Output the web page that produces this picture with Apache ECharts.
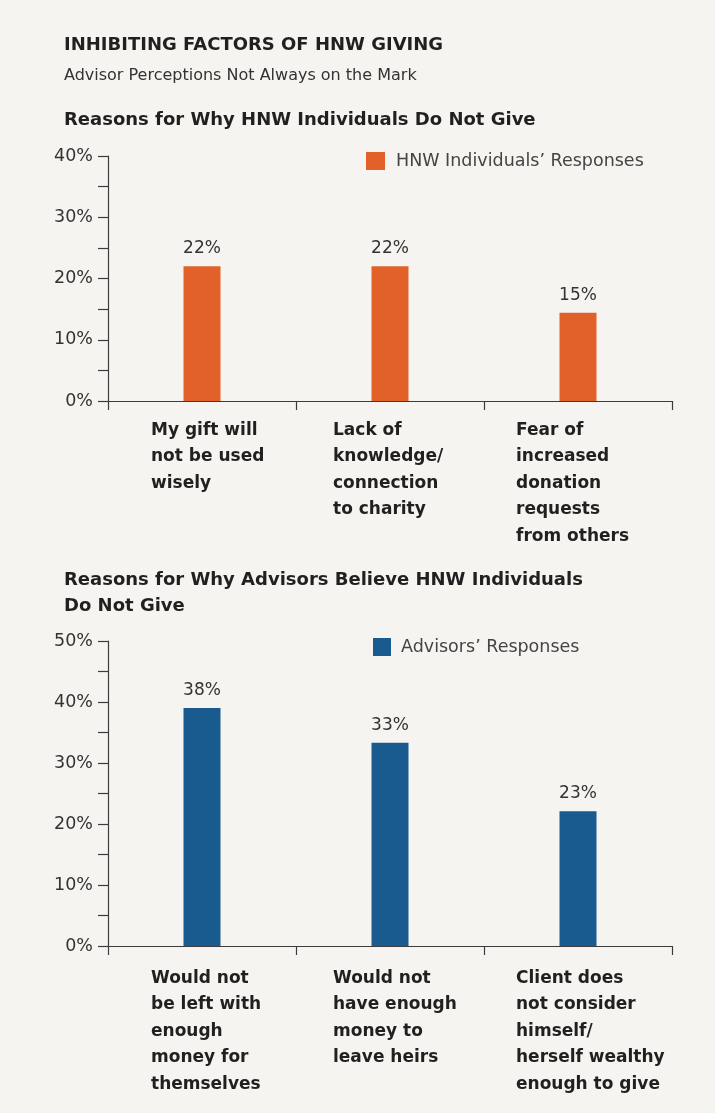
<!DOCTYPE html>
<html>
<head>
<meta charset="utf-8">
<script src="https://cdn.jsdelivr.net/npm/echarts@6/dist/echarts.min.js"></script>
<style>
html,body{margin:0;padding:0;background:#F5F4F1;}
#chart{width:715px;height:1113px;}
</style>
</head>
<body>
<div id="chart"></div>
<script>
// ---- data ----
const topCategories = [
  'My gift will\nnot be used\nwisely',
  'Lack of\nknowledge/\nconnection\nto charity',
  'Fear of\nincreased\ndonation\nrequests\nfrom others'
];
const topSeriesName = 'HNW Individuals’ Responses';
const topValues = [22, 22, 14.4];
const topValueLabels = ['22%', '22%', '15%'];
const topYTicks = { min: 0, max: 40, interval: 10 };

const bottomCategories = [
  'Would not\nbe left with\nenough\nmoney for\nthemselves',
  'Would not\nhave enough\nmoney to\nleave heirs',
  'Client does\nnot consider\nhimself/\nherself wealthy\nenough to give'
];
const bottomSeriesName = 'Advisors’ Responses';
const bottomValues = [39, 33.3, 22.1];
const bottomValueLabels = ['38%', '33%', '23%'];
const bottomYTicks = { min: 0, max: 50, interval: 10 };

// ---- styling ----
const FONT = 'DejaVu Sans';
const DARK = '#231F20';
const AXIS = '#3c3c3c';
const ORANGE = '#E26128';
const BLUE = '#1A5B8F';
const labelShift = [-51, -57, -62];

function catData(cats) {
  return cats.map((c, i) => ({
    value: c,
    textStyle: {
      align: 'left', padding: [0, 0, 0, labelShift[i]],
      color: DARK, fontFamily: FONT, fontSize: 17, fontWeight: 'bold', lineHeight: 26.5
    }
  }));
}

function xAxisCfg(gridIndex, cats, margin) {
  return {
    type: 'category', gridIndex: gridIndex, data: catData(cats),
    axisLine: { show: true, lineStyle: { color: AXIS, width: 1.2 } },
    axisTick: { show: true, length: 9, lineStyle: { color: AXIS, width: 1.2 } },
    axisLabel: {
      interval: 0, align: 'left', margin: margin, color: DARK,
      fontFamily: FONT, fontSize: 17, fontWeight: 'bold', lineHeight: 26.5
    }
  };
}
function yAxisCfg(gridIndex, t) {
  return {
    type: 'value', gridIndex: gridIndex, min: t.min, max: t.max, interval: t.interval,
    axisLine: { show: true, lineStyle: { color: AXIS, width: 1.2 } },
    axisTick: { show: true, length: 10, lineStyle: { color: AXIS, width: 1.2 } },
    minorTick: { show: true, splitNumber: 2, length: 10, lineStyle: { color: AXIS, width: 1.2 } },
    splitLine: { show: false },
    axisLabel: { formatter: '{value}%', margin: 15, color: '#333', fontFamily: FONT, fontSize: 17.5 }
  };
}
function seriesCfg(name, idx, values, labels, color) {
  return {
    name: name, type: 'bar', xAxisIndex: idx, yAxisIndex: idx,
    data: values, barWidth: 37, itemStyle: { color: color },
    label: {
      show: true, position: 'top', distance: 9, color: '#333',
      fontFamily: FONT, fontSize: 17,
      formatter: p => labels[p.dataIndex]
    }
  };
}

const chart = echarts.init(document.getElementById('chart'), null, { renderer: 'canvas' });
chart.setOption({
  backgroundColor: '#F5F4F1',
  animation: false,
  title: [
    { text: 'INHIBITING FACTORS OF HNW GIVING', left: 64, top: 35, padding: 0,
      textStyle: { fontFamily: FONT, fontSize: 18, fontWeight: 'bold', color: DARK, lineHeight: 20 } },
    { text: 'Advisor Perceptions Not Always on the Mark', left: 64, top: 66, padding: 0,
      textStyle: { fontFamily: FONT, fontSize: 16, fontWeight: 'normal', color: '#333', lineHeight: 20 } },
    { text: 'Reasons for Why HNW Individuals Do Not Give', left: 64, top: 110, padding: 0,
      textStyle: { fontFamily: FONT, fontSize: 18, fontWeight: 'bold', color: DARK, lineHeight: 20 } },
    { text: 'Reasons for Why Advisors Believe HNW Individuals\nDo Not Give', left: 64, top: 567, padding: 0,
      textStyle: { fontFamily: FONT, fontSize: 18, fontWeight: 'bold', color: DARK, lineHeight: 26 } }
  ],
  legend: [
    { data: [topSeriesName], left: 366, top: 152, itemWidth: 19, itemHeight: 18, icon: 'rect', padding: 0,
      textStyle: { fontFamily: FONT, fontSize: 17.5, color: '#444', padding: [0, 0, 0, 6] } },
    { data: [bottomSeriesName], left: 373, top: 638, itemWidth: 18, itemHeight: 18, icon: 'rect', padding: 0,
      textStyle: { fontFamily: FONT, fontSize: 17.5, color: '#444', padding: [0, 0, 0, 5] } }
  ],
  grid: [
    { left: 108, right: 43, top: 156, height: 245, containLabel: false, outerBoundsMode: 'none' },
    { left: 108, right: 43, top: 641, height: 305, containLabel: false, outerBoundsMode: 'none' }
  ],
  xAxis: [xAxisCfg(0, topCategories, 16), xAxisCfg(1, bottomCategories, 19)],
  yAxis: [yAxisCfg(0, topYTicks), yAxisCfg(1, bottomYTicks)],
  series: [
    seriesCfg(topSeriesName, 0, topValues, topValueLabels, ORANGE),
    seriesCfg(bottomSeriesName, 1, bottomValues, bottomValueLabels, BLUE)
  ]
});
</script>
</body>
</html>
